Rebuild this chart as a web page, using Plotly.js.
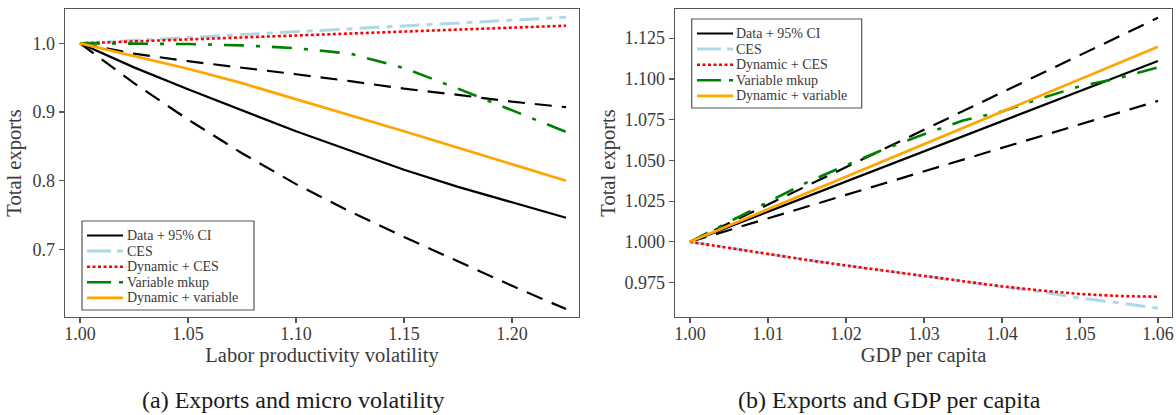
<!DOCTYPE html>
<html><head><meta charset="utf-8">
<script src="https://cdn.plot.ly/plotly-3.0.1.min.js"></script>
<style>html,body{margin:0;padding:0;background:#fff}</style>
</head><body><div id="chart" style="width:1176px;height:415px"></div>
<script>
// ---------- data ----------
const seriesNames = ['Data + 95% CI', 'CES', 'Dynamic + CES', 'Variable mkup', 'Dynamic + variable'];

// Panel (a): Exports and micro volatility
const volX        = [1.000, 1.025, 1.050, 1.075, 1.100, 1.125, 1.150, 1.175, 1.200, 1.225];
const volData     = [1.000, 0.965, 0.933, 0.903, 0.872, 0.844, 0.816, 0.791, 0.768, 0.746];
const volCIHigh   = [1.000, 0.985, 0.974, 0.965, 0.955, 0.945, 0.934, 0.925, 0.915, 0.907];
const volCILow    = [1.000, 0.942, 0.889, 0.840, 0.795, 0.755, 0.718, 0.682, 0.647, 0.613];
const volCES      = [1.000, 1.0042, 1.0084, 1.0127, 1.0169, 1.0211, 1.0253, 1.0296, 1.0338, 1.038];
const volDynCES   = [1.000, 1.0029, 1.0057, 1.0086, 1.0114, 1.0143, 1.0171, 1.0200, 1.0228, 1.0257];
const volVar      = [1.000, 1.000, 0.999, 0.997, 0.993, 0.985, 0.964, 0.934, 0.903, 0.871];
const volDynVar   = [1.000, 0.9815, 0.963, 0.942, 0.919, 0.896, 0.872, 0.848, 0.824, 0.800];
const volXTicks   = [1.00, 1.05, 1.10, 1.15, 1.20];
const volYTicks   = [0.7, 0.8, 0.9, 1.0];

// Panel (b): Exports and GDP per capita
const gdpX        = [1.000, 1.005, 1.010, 1.015, 1.020, 1.025, 1.030, 1.035, 1.040, 1.045, 1.050, 1.055, 1.060];
const gdpData     = [1.000, 1.0093, 1.0185, 1.0278, 1.0370, 1.0463, 1.0555, 1.0648, 1.0740, 1.0833, 1.0925, 1.1018, 1.1110];
const gdpCIHigh   = [1.000, 1.0115, 1.0229, 1.0344, 1.0458, 1.0573, 1.0688, 1.0802, 1.0917, 1.1031, 1.1146, 1.1260, 1.1375];
const gdpCILow    = [1.000, 1.0072, 1.0144, 1.0216, 1.0288, 1.0360, 1.0433, 1.0505, 1.0577, 1.0649, 1.0721, 1.0793, 1.0865];
const gdpCES      = [1.000, 0.9962, 0.9925, 0.9889, 0.9855, 0.9822, 0.9790, 0.9758, 0.9725, 0.9695, 0.9655, 0.9626, 0.9592];
const gdpDynCES   = [1.000, 0.9962, 0.9925, 0.9889, 0.9855, 0.9822, 0.9790, 0.9758, 0.9727, 0.9702, 0.9680, 0.9668, 0.9663];
const gdpVar      = [1.000, 1.0125, 1.0245, 1.0365, 1.047, 1.057, 1.066, 1.0745, 1.080, 1.088, 1.0955, 1.1005, 1.107];
const gdpDynVar   = [1.000, 1.0100, 1.0200, 1.0300, 1.0399, 1.0499, 1.0599, 1.0699, 1.0799, 1.0898, 1.0998, 1.1098, 1.1198];
const gdpXTicks   = [1.00, 1.01, 1.02, 1.03, 1.04, 1.05, 1.06];
const gdpYTicks   = [0.975, 1.000, 1.025, 1.050, 1.075, 1.100, 1.125];

const captions = ['(a) Exports and micro volatility', '(b) Exports and GDP per capita'];
const xTitles = ['Labor productivity volatility', 'GDP per capita'];
const yTitle = 'Total exports';

// ---------- styles ----------
const FONT = 'Liberation Serif, DejaVu Serif, serif';
const W = 1176, H = 415, MT = 9, MB = 98;
const PH = H - MT - MB;
const TXT = '#3a3a3a';
const styles = [
  {color: '#000000', width: 2.2, dash: 'solid'},
  {color: '#ADD8E6', width: 3, dash: '20px,7px,6px,7px'},
  {color: '#FF0000', width: 2.6, dash: '3px,2.5px'},
  {color: '#008000', width: 2.6, dash: '20px,12px,4px,12px'},
  {color: '#FFA500', width: 2.7, dash: 'solid'}
];
const ciStyle = {color: '#000000', width: 2.2, dash: '17px,10px'};

function line(x, y, st, xa, ya, name) {
  return {x: x, y: y, type: 'scatter', mode: 'lines', name: name, showlegend: false,
    xaxis: xa, yaxis: ya, hoverinfo: 'skip',
    line: {color: st.color, width: st.width, dash: st.dash}};
}

const traces = [
  line(volX, volCIHigh, ciStyle, 'x', 'y', 'CI upper'),
  line(volX, volCILow, ciStyle, 'x', 'y', 'CI lower'),
  line(volX, volData, styles[0], 'x', 'y', seriesNames[0]),
  line(volX, volCES, styles[1], 'x', 'y', seriesNames[1]),
  line(volX, volDynCES, styles[2], 'x', 'y', seriesNames[2]),
  line(volX, volVar, styles[3], 'x', 'y', seriesNames[3]),
  line(volX, volDynVar, styles[4], 'x', 'y', seriesNames[4]),
  line(gdpX, gdpCIHigh, ciStyle, 'x2', 'y2', 'CI upper'),
  line(gdpX, gdpCILow, ciStyle, 'x2', 'y2', 'CI lower'),
  line(gdpX, gdpData, styles[0], 'x2', 'y2', seriesNames[0]),
  line(gdpX, gdpCES, styles[1], 'x2', 'y2', seriesNames[1]),
  line(gdpX, gdpDynCES, styles[2], 'x2', 'y2', seriesNames[2]),
  line(gdpX, gdpVar, styles[3], 'x2', 'y2', seriesNames[3]),
  line(gdpX, gdpDynVar, styles[4], 'x2', 'y2', seriesNames[4])
];

const px = v => v / W;
const py = v => (H - MB - v) / PH;

function axisBase() {
  return {showgrid: false, zeroline: false, showline: true, mirror: true,
    linecolor: '#555555', linewidth: 1.3, ticks: 'outside', ticklen: 5, tickwidth: 1.2,
    tickcolor: '#555555', tickfont: {family: FONT, size: 18, color: TXT}};
}
const xTitleFont = {family: FONT, size: 20.5, color: TXT};

const layout = {
  width: W, height: H, margin: {l: 0, r: 0, t: MT, b: MB},
  paper_bgcolor: '#ffffff', plot_bgcolor: '#ffffff', showlegend: false,
  xaxis: Object.assign(axisBase(), {domain: [px(65), px(579)], range: [0.99306, 1.2310],
    tickvals: volXTicks, tickformat: '.2f', anchor: 'y', ticklabelstandoff: -5,
    title: {text: xTitles[0], font: xTitleFont, standoff: 3}}),
  yaxis: Object.assign(axisBase(), {domain: [0, 1], range: [0.6015, 1.05],
    tickvals: volYTicks, tickformat: '.1f', anchor: 'x',
    title: {text: yTitle, font: xTitleFont, standoff: 5}}),
  xaxis2: Object.assign(axisBase(), {domain: [px(675), px(1172)], range: [0.99808, 1.0618],
    tickvals: gdpXTicks, tickformat: '.2f', anchor: 'y2', ticklabelstandoff: -5,
    title: {text: xTitles[1], font: xTitleFont, standoff: 3}}),
  yaxis2: Object.assign(axisBase(), {domain: [0, 1], range: [0.9539, 1.1429],
    tickvals: gdpYTicks, tickformat: '.3f', anchor: 'x2',
    title: {text: yTitle, font: xTitleFont, standoff: 3}}),
  shapes: [],
  annotations: []
};

// manual legends (compact rows like the reference)
const legends = [
  {box: [82, 221, 254, 310], x0: 87, x1: 123, tx: 127, y0: 235.5, dy: 15.6},
  {box: [691.7, 19, 861.7, 108], x0: 697, x1: 733, tx: 736, y0: 33.5, dy: 15.6}
];
legends.forEach(lg => {
  layout.shapes.push({type: 'rect', xref: 'paper', yref: 'paper',
    x0: px(lg.box[0]), x1: px(lg.box[2]), y0: py(lg.box[3]), y1: py(lg.box[1]),
    fillcolor: '#ffffff', line: {color: '#555555', width: 1.2}, layer: 'above'});
  seriesNames.forEach((nm, i) => {
    const yy = py(lg.y0 + i * lg.dy);
    const st = styles[i];
    layout.shapes.push({type: 'line', xref: 'paper', yref: 'paper', layer: 'above',
      x0: px(lg.x0), x1: px(lg.x1), y0: yy, y1: yy,
      line: {color: st.color, width: st.width, dash: i === 1 ? '24px,6px,6px,6px' : (i === 3 ? '24px,8px,4px,6px' : st.dash)}});
    layout.annotations.push({xref: 'paper', yref: 'paper', x: px(tx0(lg)), y: yy,
      xanchor: 'left', yanchor: 'middle', showarrow: false, text: nm,
      borderpad: 0, borderwidth: 0,
      font: {family: FONT, size: 14, color: TXT}});
  });
});
function tx0(lg) { return lg.tx; }

// captions
[293, 889].forEach((cx, i) => {
  layout.annotations.push({xref: 'paper', yref: 'paper', x: px(cx), y: py(400),
    xanchor: 'center', yanchor: 'middle', showarrow: false, text: captions[i],
    font: {family: FONT, size: 24, color: '#1a1a1a'}});
});

Plotly.newPlot('chart', traces, layout, {staticPlot: true, displayModeBar: false});
</script>
</body></html>
